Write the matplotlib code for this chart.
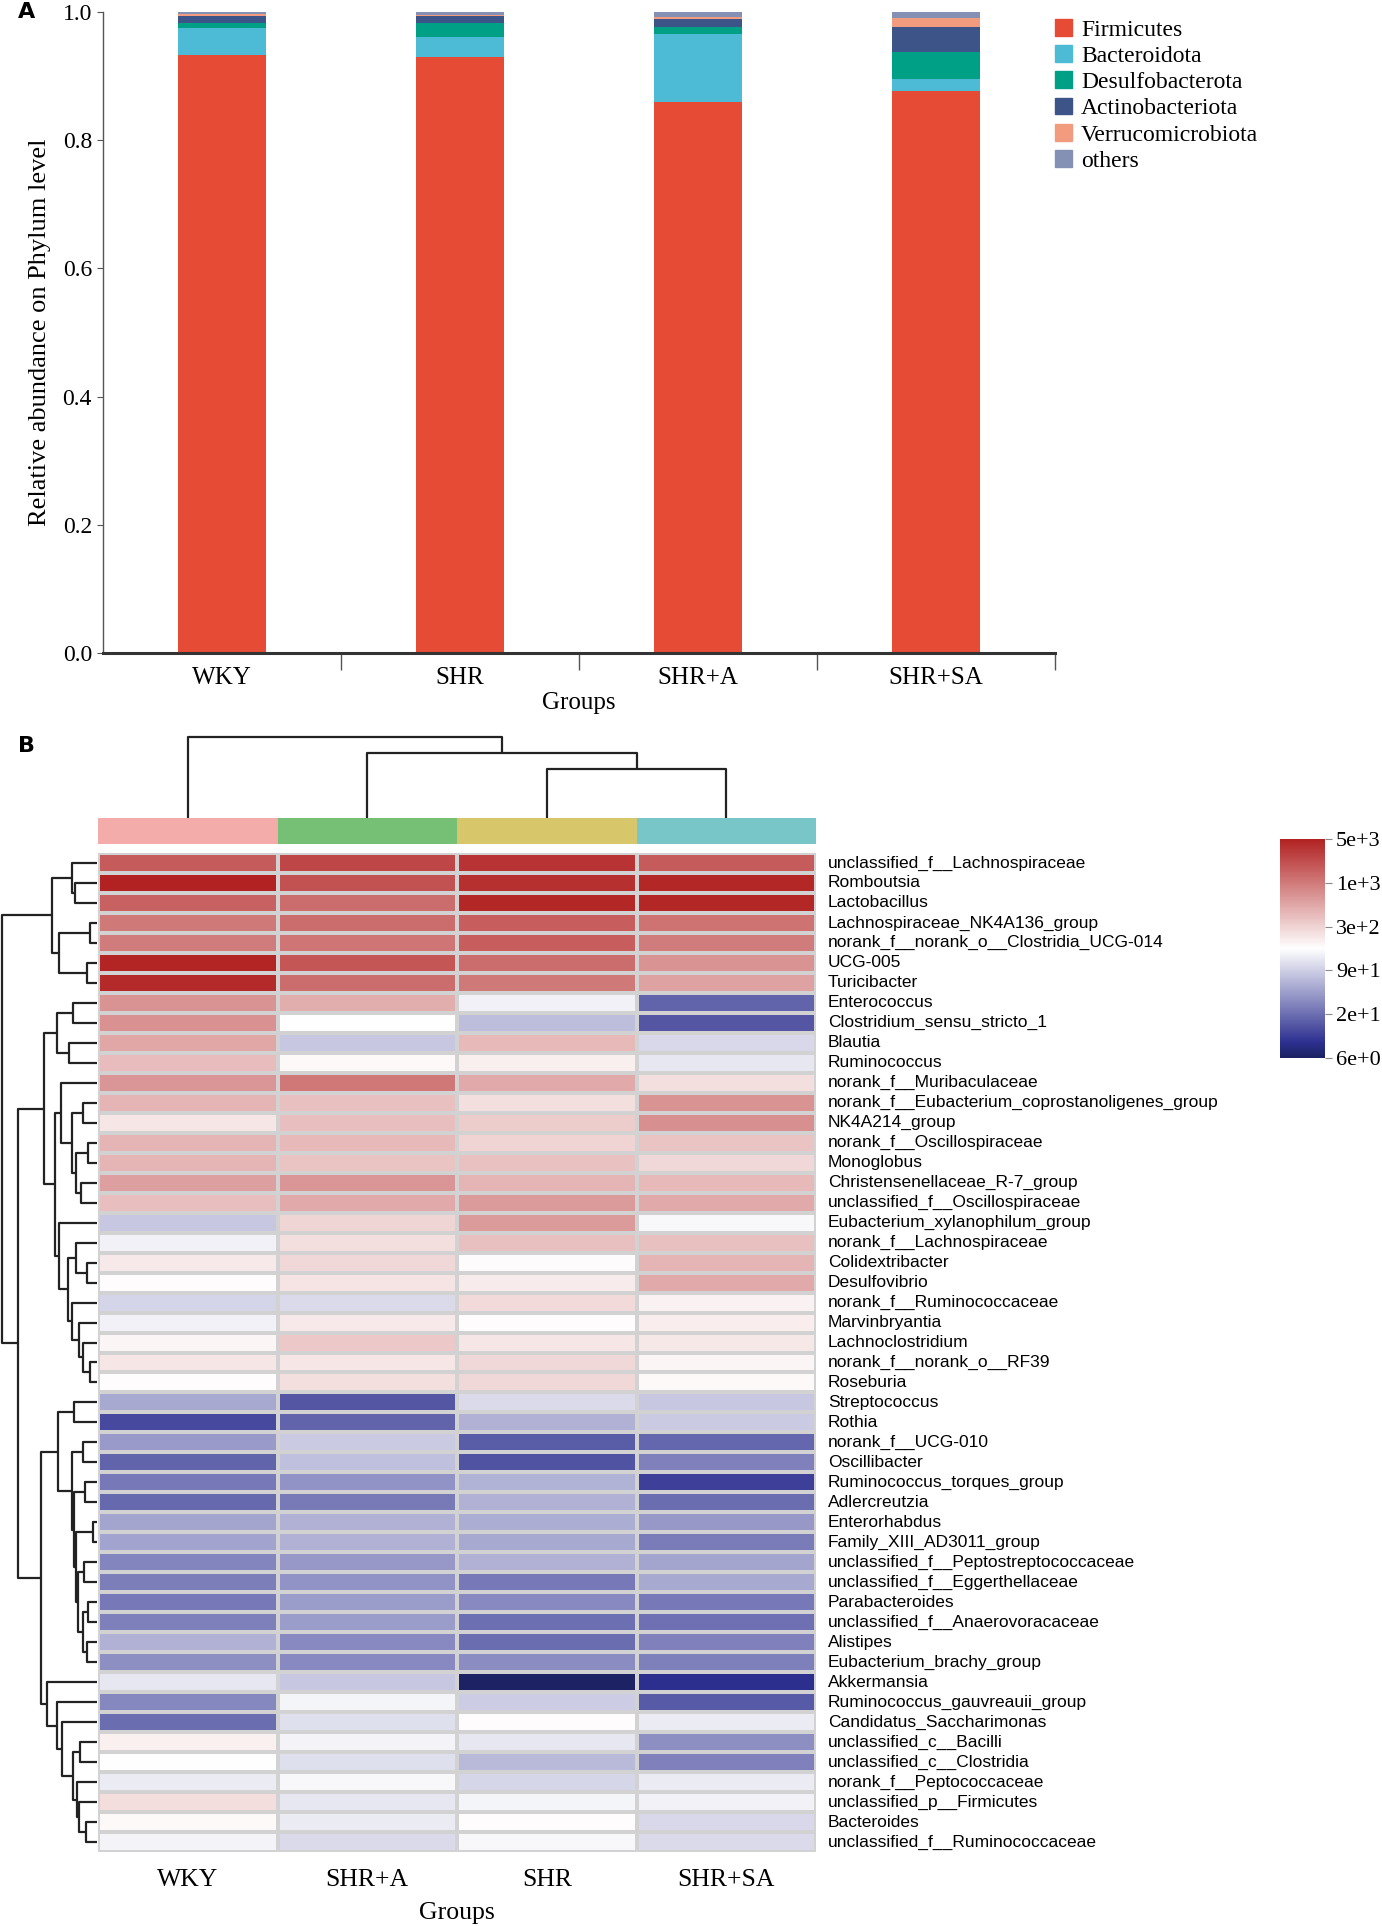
import numpy as np
import matplotlib
matplotlib.use("Agg")
import matplotlib.pyplot as plt
from matplotlib.patches import Rectangle
from matplotlib.colors import LinearSegmentedColormap, LogNorm

W, H = 1382, 1926

# ---- panel A data ----
groups_a = ["WKY", "SHR", "SHR+A", "SHR+SA"]
phyla = ["Firmicutes", "Bacteroidota", "Desulfobacterota",
         "Actinobacteriota", "Verrucomicrobiota", "others"]
phylum_colors = ["#E64B35", "#4DBBD5", "#00A087", "#3C5488", "#F39B7F", "#8491B4"]
firmicutes = [0.933, 0.930, 0.859, 0.876]
bacteroidota = [0.042, 0.031, 0.107, 0.020]
desulfobacterota = [0.008, 0.022, 0.010, 0.042]
actinobacteriota = [0.010, 0.011, 0.013, 0.039]
verrucomicrobiota = [0.004, 0.002, 0.003, 0.013]
others = [0.003, 0.004, 0.008, 0.010]

# ---- panel B data (log10 abundance) ----
groups_b = ["WKY", "SHR+A", "SHR", "SHR+SA"]
group_colors = ["#F4ACAB", "#76C076", "#D8C66A", "#78C6C8"]
genera = [
    "unclassified_f__Lachnospiraceae", "Romboutsia", "Lactobacillus",
    "Lachnospiraceae_NK4A136_group", "norank_f__norank_o__Clostridia_UCG-014",
    "UCG-005", "Turicibacter", "Enterococcus", "Clostridium_sensu_stricto_1",
    "Blautia", "Ruminococcus", "norank_f__Muribaculaceae",
    "norank_f__Eubacterium_coprostanoligenes_group", "NK4A214_group",
    "norank_f__Oscillospiraceae", "Monoglobus", "Christensenellaceae_R-7_group",
    "unclassified_f__Oscillospiraceae", "Eubacterium_xylanophilum_group",
    "norank_f__Lachnospiraceae", "Colidextribacter", "Desulfovibrio",
    "norank_f__Ruminococcaceae", "Marvinbryantia", "Lachnoclostridium",
    "norank_f__norank_o__RF39", "Roseburia", "Streptococcus", "Rothia",
    "norank_f__UCG-010", "Oscillibacter", "Ruminococcus_torques_group",
    "Adlercreutzia", "Enterorhabdus", "Family_XIII_AD3011_group",
    "unclassified_f__Peptostreptococcaceae", "unclassified_f__Eggerthellaceae",
    "Parabacteroides", "unclassified_f__Anaerovoracaceae", "Alistipes",
    "Eubacterium_brachy_group", "Akkermansia", "Ruminococcus_gauvreauii_group",
    "Candidatus_Saccharimonas", "unclassified_c__Bacilli",
    "unclassified_c__Clostridia", "norank_f__Peptococcaceae",
    "unclassified_p__Firmicutes", "Bacteroides", "unclassified_f__Ruminococcaceae",
]
log_wky = [3.32, 3.70, 3.27, 3.12, 3.10, 3.68, 3.65, 2.95, 2.96, 2.82,
           2.68, 2.93, 2.72, 2.40, 2.73, 2.73, 2.87, 2.67, 1.90, 2.15,
           2.38, 2.26, 1.98, 2.15, 2.30, 2.40, 2.26, 1.72, 1.14, 1.63,
           1.30, 1.42, 1.33, 1.70, 1.68, 1.50, 1.46, 1.42, 1.47, 1.76,
           1.56, 2.10, 1.51, 1.35, 2.33, 2.24, 2.12, 2.46, 2.28, 2.17]
log_shr_a = [3.45, 3.38, 3.20, 3.20, 3.15, 3.35, 3.20, 2.78, 2.24, 1.90,
             2.28, 3.13, 2.65, 2.67, 2.70, 2.63, 2.93, 2.80, 2.52, 2.45,
             2.50, 2.42, 2.02, 2.38, 2.60, 2.40, 2.45, 1.22, 1.30, 1.92,
             1.86, 1.58, 1.43, 1.76, 1.76, 1.62, 1.58, 1.64, 1.64, 1.53,
             1.53, 1.90, 2.18, 2.05, 2.17, 2.05, 2.20, 2.10, 2.12, 2.02]
log_shr = [3.58, 3.60, 3.66, 3.30, 3.30, 3.20, 3.12, 2.15, 1.85, 2.70,
           2.35, 2.80, 2.45, 2.58, 2.53, 2.64, 2.72, 2.90, 2.90, 2.65,
           2.27, 2.37, 2.48, 2.25, 2.40, 2.50, 2.50, 2.02, 1.76, 1.25,
           1.20, 1.78, 1.76, 1.74, 1.72, 1.76, 1.42, 1.53, 1.37, 1.36,
           1.55, 0.80, 1.94, 2.26, 2.10, 1.82, 1.99, 2.18, 2.26, 2.20]
log_shr_sa = [3.32, 3.66, 3.66, 3.17, 3.10, 2.95, 2.85, 1.30, 1.22, 2.00,
              2.10, 2.45, 2.95, 2.97, 2.63, 2.50, 2.70, 2.80, 2.20, 2.65,
              2.73, 2.80, 2.32, 2.36, 2.39, 2.30, 2.28, 1.90, 1.92, 1.32,
              1.48, 1.08, 1.35, 1.62, 1.44, 1.70, 1.72, 1.42, 1.38, 1.48,
              1.47, 0.98, 1.24, 2.12, 1.56, 1.48, 2.12, 2.15, 2.00, 2.02]

# dendrograms: [left, right, height]
row_tree = [
    [[0, [1, 2, 22], 25], [[3, 4, 7], [5, 6, 10], 38], 45],
    [
        [[[7, 8, 24], [9, 10, 28], 40],
         [[11, [[12, 13, 14], [[14, 15, 9], [16, 17, 16], 21], 25], 36],
          [18, [[19, [20, 21, 10], 21],
                [22, [23, [24, [25, 26, 7], 14], 18], 25], 29], 38], 42], 53],
        [[[27, 28, 23],
          [[29, 30, 14],
           [[31, 32, 12],
            [[33, 34, 4], [[35, 36, 13], [[37, 38, 9], [39, 40, 10], 14], 19], 21],
            23], 25], 39],
         [41, [42, [43, [[44, 45, 17], [46, [47, [48, 49, 11], 18], 20], 24], 35], 40], 50],
         56],
        79],
    95]
col_tree = [0, [1, [2, 3, 49], 65], 81]

serif = "Liberation Serif"
sans = "Liberation Sans"


def box(x0, y0, x1, y1):
    return [x0 / W, 1 - y1 / H, (x1 - x0) / W, (y1 - y0) / H]


def draw_tree(ax, node, horizontal):
    if isinstance(node, int):
        return node + 0.5, 0
    left, right, h = node
    p1, h1 = draw_tree(ax, left, horizontal)
    p2, h2 = draw_tree(ax, right, horizontal)
    if horizontal:
        ax.plot([h1, h, h, h2], [p1, p1, p2, p2], color="#222222", lw=1.6,
                solid_capstyle="butt")
    else:
        ax.plot([p1, p1, p2, p2], [h1, h, h, h2], color="#222222", lw=1.6,
                solid_capstyle="butt")
    return (p1 + p2) / 2, h


fig = plt.figure(figsize=(W / 100, H / 100), dpi=100)

# ================= panel A =================
ax = fig.add_axes(box(103, 12, 1055, 653))
series = [firmicutes, bacteroidota, desulfobacterota, actinobacteriota,
          verrucomicrobiota, others]
xpos = np.arange(len(groups_a)) + 0.5
bottom = np.zeros(len(groups_a))
for vals, col in zip(series, phylum_colors):
    ax.bar(xpos, vals, width=0.37, bottom=bottom, color=col, edgecolor="none")
    bottom += np.array(vals)
ax.set_xlim(0, 4)
ax.set_ylim(0, 1)
for s in ["top", "right"]:
    ax.spines[s].set_visible(False)
ax.spines["bottom"].set_linewidth(2.2)
ax.spines["bottom"].set_color("#333333")
ax.spines["left"].set_linewidth(1.0)
ax.spines["left"].set_color("#555555")
ax.set_xticks(xpos)
ax.set_xticklabels(groups_a, fontfamily=serif, fontsize=18)
ax.tick_params(axis="x", which="major", length=0, pad=10)
ax.set_xticks([1, 2, 3, 4], minor=True)
ax.tick_params(axis="x", which="minor", length=12, width=1.0, color="#555555")
ax.set_yticks(np.arange(0, 1.01, 0.2))
ax.set_yticklabels([f"{v:.1f}" for v in np.arange(0, 1.01, 0.2)],
                   fontfamily=serif, fontsize=17)
ax.tick_params(axis="y", length=4, color="#555555", pad=4)
ax.set_xlabel("Groups", fontfamily=serif, fontsize=18, labelpad=2)
ax.set_ylabel("Relative abundance on Phylum level", fontfamily=serif,
              fontsize=19, labelpad=8)
handles = [Rectangle((0, 0), 1, 1, color=c) for c in phylum_colors]
ax.legend(handles, phyla, loc="upper left", bbox_to_anchor=(1055 / W, 1 - 19 / H),
          bbox_transform=fig.transFigure, frameon=False,
          prop={"family": serif, "size": 17}, handlelength=0.7,
          handleheight=0.7, handletextpad=0.4, labelspacing=0.2,
          borderaxespad=0, borderpad=0)
fig.text(18 / W, 1 - 12 / H, "A", fontsize=16, fontweight="bold", va="center",
         ha="left", family="DejaVu Sans")

# ================= panel B =================
fig.text(18 / W, 1 - 746 / H, "B", fontsize=16, fontweight="bold", va="center",
         ha="left", family="DejaVu Sans")

values = 10 ** np.column_stack([log_wky, log_shr_a, log_shr, log_shr_sa])
cmap = LinearSegmentedColormap.from_list(
    "nwf", [(0.0, "#1B2161"), (0.07, "#2D3090"), (0.5, "#FFFFFF"),
            (1.0, "#B22222")])
norm = LogNorm(vmin=6, vmax=5000)

hax = fig.add_axes(box(98, 853, 816, 1852))
mesh = hax.pcolormesh(values, cmap=cmap, norm=norm, edgecolors="#D2D2D2",
                      linewidth=1.5)
hax.set_xlim(0, 4)
hax.set_ylim(len(genera), 0)
for s in hax.spines.values():
    s.set_visible(False)
hax.set_yticks([])
hax.set_xticks(np.arange(4) + 0.5)
hax.set_xticklabels(groups_b, fontfamily=serif, fontsize=18.5)
hax.tick_params(axis="x", length=0, pad=12)
hax.set_xlabel("Groups", fontfamily=serif, fontsize=18.5, labelpad=8)
for i, name in enumerate(genera):
    hax.text(1 + 12 / 718, i + 0.5, name, transform=hax.get_yaxis_transform(),
             va="center", ha="left", fontsize=12.5, family=sans)

# group colour strip
gax = fig.add_axes(box(98, 818, 816, 844))
gax.bar(np.arange(4), 1, width=1, align="edge", color=group_colors)
gax.set_xlim(0, 4)
gax.set_ylim(0, 1)
gax.axis("off")

# column dendrogram
cax_d = fig.add_axes(box(98, 735, 816, 818))
draw_tree(cax_d, col_tree, horizontal=False)
cax_d.set_xlim(0, 4)
cax_d.set_ylim(0, 83)
cax_d.axis("off")

# row dendrogram
rax = fig.add_axes(box(0, 853, 97, 1852))
draw_tree(rax, row_tree, horizontal=True)
rax.set_xlim(97, 0)
rax.set_ylim(len(genera), 0)
rax.axis("off")

# colour bar
cbax = fig.add_axes(box(1280, 839, 1325, 1058))
cb = fig.colorbar(mesh, cax=cbax)
cb.outline.set_visible(False)
ticks = 10 ** np.linspace(np.log10(6), np.log10(5000), 6)
cb.set_ticks(ticks)
cb.set_ticklabels([f"{t:.0e}".replace("e+0", "e+") for t in ticks])
cb.minorticks_off()
cbax.tick_params(length=5, color="#888888", pad=3, labelsize=16)
for lab in cbax.get_yticklabels():
    lab.set_family(serif)

fig.savefig("out.png", dpi=100)
